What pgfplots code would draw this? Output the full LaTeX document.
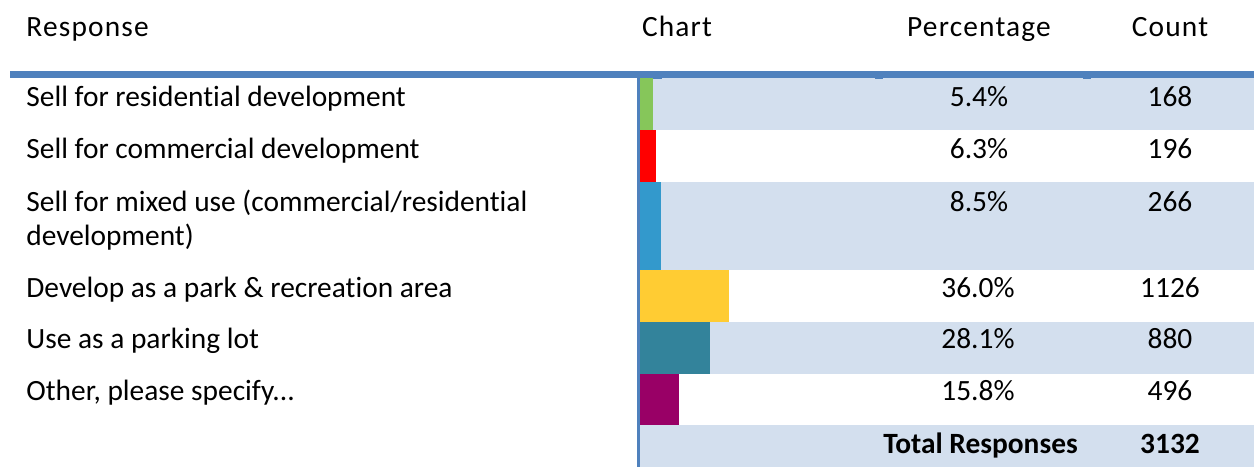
\documentclass[border=0pt]{standalone}
\usepackage{pgfplots}
\pgfplotsset{compat=1.18}
\usepackage{fontspec}
\setmainfont{Carlito}[Ligatures={NoCommon}]
\newfontfamily\hdrfont{Carlito}[Ligatures={NoCommon}, LetterSpace=4]
\definecolor{hdrblue}{RGB}{79,129,189}
\definecolor{rowshade}{RGB}{211,223,238}
\definecolor{cgreen}{RGB}{134,198,90}
\definecolor{cred}{RGB}{255,0,0}
\definecolor{cblue}{RGB}{51,153,204}
\definecolor{cyellow}{RGB}{255,204,51}
\definecolor{cteal}{RGB}{51,131,155}
\definecolor{cpurple}{RGB}{153,0,102}
\begin{document}
\begin{tikzpicture}[font=\fontsize{14.7}{17.9}\selectfont]
\begin{axis}[scale only axis, width=627pt, height=233.5pt,
  xmin=0, xmax=1254, ymin=0, ymax=467, y dir=reverse,
  hide axis, clip=false]
\path (axis cs:0,0) rectangle (axis cs:1254,467);
% row shading
\fill[rowshade] (axis cs:640,78) rectangle (axis cs:1254,130);
\fill[rowshade] (axis cs:640,182) rectangle (axis cs:1254,270);
\fill[rowshade] (axis cs:640,322) rectangle (axis cs:1254,374);
\fill[rowshade] (axis cs:640,425) rectangle (axis cs:1254,467);
% header rule and chart axis line
\fill[hdrblue] (axis cs:10,71) rectangle (axis cs:1254,77.5);
\fill[hdrblue] (axis cs:637,77) rectangle (axis cs:640,467);
\fill[hdrblue] (axis cs:653,77) rectangle (axis cs:662,79);
\fill[hdrblue] (axis cs:875,77) rectangle (axis cs:883,79);
\fill[hdrblue] (axis cs:1083,77) rectangle (axis cs:1091,79);
\coordinate (barorigin) at (axis cs:640,78);
% headers
\node[anchor=base west, inner sep=0, font=\fontsize{14.7}{17.9}\hdrfont] at (axis cs:26,36) {Response};
\node[anchor=base, inner sep=0, font=\fontsize{14.7}{17.9}\hdrfont] at (axis cs:677,36) {Chart};
\node[anchor=base, inner sep=0, font=\fontsize{14.7}{17.9}\hdrfont] at (axis cs:979,36) {Percentage};
\node[anchor=base, inner sep=0, font=\fontsize{14.7}{17.9}\hdrfont] at (axis cs:1170,36) {Count};
% response labels
\node[anchor=base west, inner sep=0] at (axis cs:26,106.5) {Sell for residential development};
\node[anchor=base west, inner sep=0] at (axis cs:26,158) {Sell for commercial development};
\node[anchor=base west, inner sep=0] at (axis cs:26,211) {Sell for mixed use (commercial/residential};
\node[anchor=base west, inner sep=0] at (axis cs:26,245) {development)};
\node[anchor=base west, inner sep=0] at (axis cs:26,297) {Develop as a park \& recreation area};
\node[anchor=base west, inner sep=0] at (axis cs:26,348) {Use as a parking lot};
\node[anchor=base west, inner sep=0] at (axis cs:26,400) {Other, please specify.\kern0pt.\kern0pt.};
% percentages
\node[anchor=base, inner sep=0] at (axis cs:979,106.5) {5.4\%};
\node[anchor=base, inner sep=0] at (axis cs:979,158) {6.3\%};
\node[anchor=base, inner sep=0] at (axis cs:979,211) {8.5\%};
\node[anchor=base, inner sep=0] at (axis cs:978,297) {36.0\%};
\node[anchor=base, inner sep=0] at (axis cs:978,348) {28.1\%};
\node[anchor=base, inner sep=0] at (axis cs:978,400) {15.8\%};
% counts
\node[anchor=base, inner sep=0] at (axis cs:1170,106.5) {168};
\node[anchor=base, inner sep=0] at (axis cs:1170,158) {196};
\node[anchor=base, inner sep=0] at (axis cs:1170,211) {266};
\node[anchor=base, inner sep=0] at (axis cs:1170,297) {1126};
\node[anchor=base, inner sep=0] at (axis cs:1170,348) {880};
\node[anchor=base, inner sep=0] at (axis cs:1170,400) {496};
% total
\node[anchor=base, inner sep=0, font=\fontsize{14.7}{17.9}\selectfont\bfseries] at (axis cs:980.5,453) {Total Responses};
\node[anchor=base, inner sep=0, font=\fontsize{14.7}{17.9}\selectfont\bfseries] at (axis cs:1170,453) {3132};
\end{axis}
\begin{axis}[at={(barorigin)}, anchor=north west,
  scale only axis, width=307pt, height=173.5pt,
  xmin=0, xmax=247.58, ymin=78, ymax=425, y dir=reverse,
  hide axis, clip=false]
\addplot[xbar, bar shift=0pt, bar width=52, fill=cgreen, draw=none] coordinates {(5.4,104)};
\addplot[xbar, bar shift=0pt, bar width=52, fill=cred, draw=none] coordinates {(6.3,156)};
\addplot[xbar, bar shift=0pt, bar width=88, fill=cblue, draw=none] coordinates {(8.5,226)};
\addplot[xbar, bar shift=0pt, bar width=52, fill=cyellow, draw=none] coordinates {(36.0,296)};
\addplot[xbar, bar shift=0pt, bar width=52, fill=cteal, draw=none] coordinates {(28.1,348)};
\addplot[xbar, bar shift=0pt, bar width=51, fill=cpurple, draw=none] coordinates {(15.8,399.5)};
\end{axis}
\end{tikzpicture}
\end{document}
